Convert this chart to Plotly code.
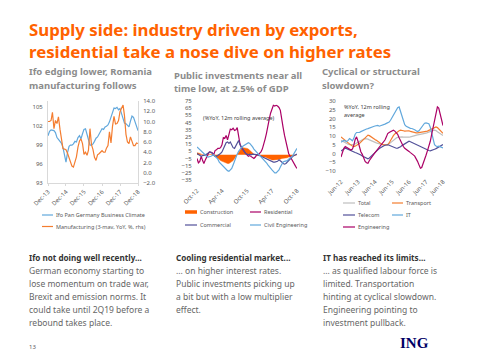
import plotly.graph_objects as go
import pandas as pd

W, H = 480, 360

# ---------------- Data ----------------
# Chart 1: Ifo vs Romania manufacturing, monthly Dec-13 .. Dec-18
c1_dates = pd.date_range("2013-12-01", "2018-12-01", freq="MS")
ifo = [100.5, 101.2, 101.4, 101.4, 101.3, 101.0, 100.2, 99.9, 99.6, 99.3,
       98.6, 97.2, 96.3, 97.8, 98.8, 99.0, 99.0, 99.2, 99.6, 99.5,
       100.2, 100.5, 100.0, 100.8, 101.5, 101.6, 100.6, 99.6, 99.0, 99.0,
       99.2, 99.6, 100.1, 100.3, 100.7, 101.0, 101.6, 101.5, 101.9, 102.0,
       102.2, 102.7, 103.4, 104.0, 104.9, 104.8, 105.0, 104.6, 104.8, 104.0,
       103.0, 102.5, 102.4, 102.1, 101.9, 102.8, 103.6, 103.4, 102.8, 101.9,
       101.3]
manufacturing = [10.0, 10.0, 10.2, 11.8, 8.6, 10.2, 9.6, 10.9, 8.5, 6.0,
                 4.7, 4.6, 4.5, 3.8, 2.8, 1.8, 1.3, 1.1, 2.1, 3.1,
                 5.0, 6.2, 6.6, 5.7, 3.6, 4.0, 3.4, 4.4, 8.6, 5.5,
                 4.5, 3.0, 2.4, 3.5, 3.7, 4.0, 4.3, 4.0, 4.0, 4.8,
                 5.3, 8.0, 5.8, 9.0, 11.0, 9.5, 9.6, 10.2, 11.9, 12.6,
                 13.2, 11.2, 7.5, 6.0, 5.7, 7.0, 6.3, 5.3, 5.3, 5.8,
                 5.7]

# Chart 2: construction works, monthly Oct-12 .. Oct-18
c2_dates = pd.date_range("2012-10-01", "2018-10-01", freq="MS")
construction = [3, 3, 2, 1, 0, -1, -1, -1, 0, 1,
                1, 0, -1, -2, -3, -4, -6, -8, -9, -10,
                -11, -11, -12, -12, -11, -10, -8, -5, -2, 1,
                4, 7, 9, 10, 10, 10, 9, 8, 6, 4,
                2, 1, 0, -1, -1, -1, -2, -2, -3, -3,
                -4, -5, -6, -6, -7, -7, -7, -7, -6, -6,
                -6, -5, -5, -5, -4, -4, -3, -3, -2, -2,
                -1, -1, 0]
residential = [-5, -11, -9, -2, -8, -12, -7, -2, 1, 4,
               4, 3, 0, 6, 7, 9, 9, 10, 14, 24,
               23, 27, 21, 30, 36, 35, 37, 34, 35, 38,
               24, 15, 10, 7, 5, 2, 0, -2, -1, -2,
               -4, -5, -3, 0, 0, 2, 4, 8, 14, 22,
               30, 38, 50, 58, 63, 69, 68, 69, 68, 66,
               62, 52, 38, 27, 17, 10, 2, -2, -6, -10,
               -13, -16, -19]
commercial = [2, 1, -1, -2, -1, -1, 0, 1, 3, 4,
              4, 2, -1, -2, -2, -1, 0, 2, 4, 8,
              12, 17, 18, 16, 18, 14, 10, 9, 13, 18,
              20, 14, 11, 7, 5, 2, 1, 0, 1, 0,
              1, 1, 1, 0, 0, -1, -2, -2, -3, -4,
              -5, -6, -7, -8, -9, -10, -10, -10, -9, -7,
              -8, -10, -12, -13, -12, -10, -8, -6, -4, -2,
              -1, 0, 1]
civil_engineering = [11, 9, 7, 5, 3, 1, 0, -2, -3, -3,
                     -2, -1, 0, -2, -4, -6, -10, -12, -14, -16,
                     -18, -20, -22, -23, -21, -19, -14, -8, -3, 1,
                     5, 8, 10, 12, 13, 14, 16, 17, 16, 14,
                     11, 8, 6, 4, 1, -1, -3, -5, -7, -9,
                     -11, -14, -17, -19, -21, -23, -25, -25, -23, -21,
                     -17, -13, -10, -9, -9, -8, -6, -5, -3, -1,
                     2, 6, 9]

# Chart 3: services, monthly Jun-12 .. Jun-18
c3_dates = pd.date_range("2012-06-01", "2018-06-01", freq="MS")
total = [7.5, 7, 6.5, 6, 5.6, 5.3, 5.1, 5, 5, 5.2,
         5.5, 6, 6.5, 7, 7.5, 8, 8.3, 8.5, 8.5, 8.2,
         7.8, 7.4, 7, 6.7, 6.4, 6.1, 5.8, 5.5, 5.3, 5.1,
         5, 4.8, 4.8, 5, 5.5, 6.2, 7, 7.8, 8.4, 8.9,
         9.2, 9.4, 9.5, 9.5, 9.4, 9.3, 9.2, 9.2, 9.3, 9.5,
         9.8, 10.1, 10.3, 10.5, 10.6, 10.8, 10.9, 11, 11.2, 11.4,
         11.6, 11.9, 12.3, 12.7, 13, 13.2, 13.3, 13.1, 12.4, 11.8,
         11.3, 10.8, 10.3]
transport = [9.5, 9, 8.3, 7.5, 6.8, 6, 5.3, 4.8, 4.3, 4,
             4.2, 4.6, 5.1, 5.7, 6.5, 7.3, 8.2, 9.2, 10, 10.5,
             10.2, 9.8, 9.2, 8.6, 8, 7.5, 6.8, 6.2, 5.6, 5.2,
             4.9, 4.8, 4.8, 5, 6, 7.5, 9, 10.2, 11.2, 12,
             12.6, 13, 13.3, 13.3, 13, 12.8, 13, 13.2, 13, 12.6,
             12.3, 12, 11.9, 11.8, 11.8, 11.9, 12, 12.1, 12.2, 12.3,
             12.5, 12.8, 13.2, 13.7, 14.2, 14.7, 15.1, 15.2, 14.8, 14,
             13.2, 12.3, 11.5]
telecom = [1.5, 2, 2.5, 3, 2.8, 2.5, 2.2, 1.8, 1.4, 1,
           0.6, 0.3, 0, -0.4, -0.9, -1.4, -1.9, -2.4, -2.8, -3,
           -2.6, -1.8, -1, -0.2, 0.6, 1.4, 2.1, 2.8, 3.4, 3.9,
           4.3, 4.7, 5, 5, 4.7, 4.3, 3.9, 3.5, 3.2, 3,
           3.1, 3.4, 3.9, 4.5, 5.1, 5.7, 6.3, 6.8, 7, 6.7,
           6.3, 5.9, 5.5, 5.1, 4.7, 4.3, 3.8, 3.3, 2.9, 2.5,
           2.2, 2, 1.7, 1.5, 1.7, 2, 2.4, 2.8, 3.3, 3.8,
           4.3, 4.7, 5.1]
it = [6.5, 7, 7.5, 7.2, 6.8, 7.5, 8.5, 8, 7.2, 8.5,
      11, 12, 11.8, 12, 12.5, 13, 13.4, 13.8, 14, 14.2,
      14.4, 14.8, 15.1, 15.4, 15.7, 16, 16, 15.6, 15.8, 16.3,
      16.6, 16.8, 17.2, 17.6, 18, 19, 20.5, 22, 23.5, 25,
      26.2, 26.6, 24, 21, 18.5, 16.5, 15.5, 15, 14.6, 14.4,
      14.3, 14.1, 13.6, 13, 12.5, 13, 14, 15.2, 16.5, 17.3,
      17.5, 17.3, 17, 15, 11, 7, 5, 4.3, 4, 4.2,
      4, 3.6, 3.2]
engineering = [-2, 1, 3, 4, 3.5, 3, 2.5, 2, 2.5, 4.5,
               8, 9.5, 7, 4, 1, -0.5, -3, -4.5, -5.3, -5.6,
               -4, -2.8, -1.8, -0.5, 0.5, 1.5, 2.5, 3.5, 4.5, 5.5,
               6.5, 7.7, 9.5, 11.4, 12, 12.4, 13, 13.3, 12.8, 12,
               11, 9, 7, 5, 4, 3, 2.5, 2, 1.2, 0.5,
               0, -0.8, -1.5, -2.8, -4.5, -6.5, -8.4, -8, -6, -3.5,
               -1, 1.5, 4, 7, 11, 15, 20, 24, 26.6, 26,
               22, 19, 16]

# ---------------- Styling ----------------
ORANGE = "#FF6200"
LORANGE = "#F47D30"
BLUE = "#62A8DC"
PURPLE = "#525199"
MAGENTA = "#AB0066"
GREY = "#BFBFBF"
TICK = "#595959"
FONT = "Noto Sans"


def fx(px):
    return px / W


def fy(px):
    return 1 - px / H


fig = go.Figure()

# Chart 1
fig.add_trace(go.Scatter(x=c1_dates, y=ifo, mode="lines", name="Ifo Pan Germany Business Climate",
                         line=dict(color=BLUE, width=1.2), xaxis="x", yaxis="y"))
fig.add_trace(go.Scatter(x=c1_dates, y=manufacturing, mode="lines",
                         name="Manufacturing (3-mav, YoY, %, rhs)",
                         line=dict(color=LORANGE, width=1.2), xaxis="x", yaxis="y2"))
# Chart 2
fig.add_trace(go.Scatter(x=c2_dates, y=construction, mode="lines", name="Construction",
                         fill="tozeroy", fillcolor=ORANGE, line=dict(color=ORANGE, width=0.5),
                         xaxis="x2", yaxis="y3"))
fig.add_trace(go.Scatter(x=c2_dates, y=residential, mode="lines", name="Residential",
                         line=dict(color=MAGENTA, width=1.2), xaxis="x2", yaxis="y3"))
fig.add_trace(go.Scatter(x=c2_dates, y=commercial, mode="lines", name="Commercial",
                         line=dict(color=PURPLE, width=1.2), xaxis="x2", yaxis="y3"))
fig.add_trace(go.Scatter(x=c2_dates, y=civil_engineering, mode="lines", name="Civil Engineering",
                         line=dict(color=BLUE, width=1.2), xaxis="x2", yaxis="y3"))
# Chart 3
for name, vals, col in [("Total", total, GREY), ("Transport", transport, LORANGE),
                        ("Telecom", telecom, PURPLE), ("IT", it, BLUE),
                        ("Engineering", engineering, MAGENTA)]:
    fig.add_trace(go.Scatter(x=c3_dates, y=vals, mode="lines", name=name,
                             line=dict(color=col, width=1.2), xaxis="x3", yaxis="y4"))

tickfont = dict(family=FONT, size=6, color=TICK)
xcommon = dict(type="date", tickformat="%b-%y", tickangle=-45, tickfont=tickfont,
               showgrid=False, zeroline=False, automargin=False, fixedrange=True)
ycommon = dict(tickfont=tickfont, showgrid=False, zeroline=False, automargin=False,
               ticks="outside", ticklen=3, tickcolor="rgba(0,0,0,0)", fixedrange=True)

layout = dict(
    width=W, height=H, margin=dict(l=0, r=0, t=0, b=0),
    paper_bgcolor="white", plot_bgcolor="white", showlegend=False,
    font=dict(family=FONT, color=TICK),
    xaxis=dict(xcommon, domain=[fx(48), fx(138)], range=["2013-12-01", "2018-12-01"],
               dtick="M12", tick0="2013-12-01", anchor="y", showline=True,
               linecolor="#D9D9D9", ticks="outside", ticklen=2, tickcolor="#D9D9D9"),
    yaxis=dict(ycommon, domain=[fy(183), fy(101)], range=[93, 106], tick0=93, dtick=3,
               anchor="x", showline=True, linecolor="#D9D9D9"),
    yaxis2=dict(ycommon, overlaying="y", side="right", range=[-2, 14], dtick=2,
                tickformat=".1f", anchor="x", showline=True, linecolor="#D9D9D9"),
    xaxis2=dict(xcommon, domain=[fx(197), fx(297)], range=["2012-10-01", "2018-10-01"],
                dtick="M18", tick0="2012-10-01", anchor="y3", showline=False,
                ticks="outside", ticklen=4, tickcolor="rgba(0,0,0,0)"),
    yaxis3=dict(ycommon, domain=[fy(180), fy(101)], range=[-35, 75], tick0=-35, dtick=10,
                anchor="x2", showline=False),
    xaxis3=dict(xcommon, domain=[fx(341), fx(443)], range=["2012-06-01", "2018-06-01"],
                dtick="M12", tick0="2012-06-01", anchor="y4", showline=False,
                ticks="outside", ticklen=4, tickcolor="rgba(0,0,0,0)"),
    yaxis4=dict(ycommon, domain=[fy(171), fy(101)], range=[-10, 30], dtick=5,
                anchor="x3", showline=False),
)
fig.update_layout(**layout)

annotations = []


def ann(text, x, y, size, color, bold=False, family=FONT, anchor="middle"):
    t = f"<b>{text}</b>" if bold else text
    annotations.append(dict(text=t, x=fx(x), y=fy(y), xref="paper", yref="paper",
                            xanchor="left", yanchor=anchor, showarrow=False, align="left",
                            font=dict(family=family, size=size, color=color)))


# Title (two lines in one text)
ann("Supply side: industry driven by exports,<br>residential take a nose dive on higher rates",
    27, 15.5, 16.8, ORANGE, bold=True, anchor="top")

# Subtitles
SUB = "#8C8C8C"
ann("Ifo edging lower, Romania", 27, 72, 9.5, SUB, bold=True)
ann("manufacturing follows", 27, 85, 9.5, SUB, bold=True)
ann("Public investments near all", 172, 75, 9.5, SUB, bold=True)
ann("time low, at 2.5% of GDP", 172, 88, 9.5, SUB, bold=True)
ann("Cyclical or structural", 320, 72, 9.5, SUB, bold=True)
ann("slowdown?", 320, 85, 9.5, SUB, bold=True)

# In-chart notes
ann("(%YoY, 12m rolling average)", 201, 118, 5.5, "#404040")
ann("%YoY, 12m rolling", 342, 107, 5.5, "#404040")
ann("average", 342, 115, 5.5, "#404040")

# Legends (keys drawn as short lines)
shapes = []


def key(x0, x1, y, color, width=1.2):
    shapes.append(dict(type="line", xref="paper", yref="paper", x0=fx(x0), x1=fx(x1),
                       y0=fy(y), y1=fy(y), line=dict(color=color, width=width)))


LEG = "#595959"
key(42, 53, 215, BLUE)
ann("Ifo Pan Germany Business Climate", 54, 215, 5.5, LEG)
key(42, 53, 226.5, LORANGE)
ann("Manufacturing (3-mav, YoY, %, rhs)", 54, 226.5, 5.5, LEG)

key(185, 197, 212, ORANGE, width=3.5)
ann("Construction", 198, 212, 5.5, LEG)
key(250, 261, 212, MAGENTA)
ann("Residential", 262, 212, 5.5, LEG)
key(185, 197, 225, PURPLE)
ann("Commercial", 198, 225, 5.5, LEG)
key(250, 261, 225, BLUE)
ann("Civil Engineering", 262, 225, 5.5, LEG)

key(343, 355, 203, GREY)
ann("Total", 356, 203, 5.5, LEG)
key(392, 403, 203, LORANGE)
ann("Transport", 404, 203, 5.5, LEG)
key(343, 355, 215, PURPLE)
ann("Telecom", 356, 215, 5.5, LEG)
key(392, 403, 215, BLUE)
ann("IT", 404, 215, 5.5, LEG)
key(343, 355, 227, MAGENTA)
ann("Engineering", 356, 227, 5.5, LEG)

# Text blocks
HEAD = "#333333"
BODY = "#666666"
blocks = [
    (27, "Ifo not doing well recently...",
     ["German economy starting to", "lose momentum on trade war,",
      "Brexit and emission norms. It", "could take until 2Q19 before a",
      "rebound takes place."]),
    (174, "Cooling residential market...",
     ["... on higher interest rates.", "Public investments picking up",
      "a bit but with a low multiplier", "effect."]),
    (321, "IT has reached its limits...",
     ["... as qualified labour force is", "limited. Transportation",
      "hinting at cyclical slowdown.", "Engineering pointing to",
      "investment pullback."]),
]
for x, head, lines in blocks:
    ann(head, x, 257, 8.1, HEAD, bold=True)
    for i, ln in enumerate(lines):
        ann(ln, x, 270 + 13 * i, 8.5, BODY)

# Footer
ann("13", 27, 347, 6, "#595959")
ann("ING", 398, 343, 15, "#000066", bold=True, family="Liberation Serif")

fig.update_layout(annotations=annotations, shapes=shapes)
fig.write_html("out.html", config={"displayModeBar": False, "staticPlot": True},
               post_script="document.body.style.margin='0';")
